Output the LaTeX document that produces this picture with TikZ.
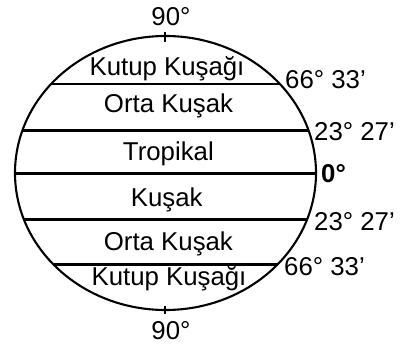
\documentclass[tikz,border=0pt]{standalone}
\usepackage{fontspec}
\setmainfont{Liberation Sans}
\usetikzlibrary{calc}
\begin{document}
\begin{tikzpicture}[x=1bp,y=1bp,
  outline/.style={line width=2.1bp,black},
  zone/.style={inner sep=0pt,anchor=base,font=\fontsize{25.8bp}{30bp}\selectfont},
  lat/.style={inner sep=0pt,anchor=base west,font=\fontsize{25.8bp}{30bp}\selectfont}]
\useasboundingbox (0,0) rectangle (403,347);
\coordinate (c) at (165.5,174);
% ellipse (globe)
\draw[outline] (c) ellipse [x radius=150.5, y radius=137];
% latitude lines
\coordinate (a1) at ($(c)+(-114.4,89)$);  \coordinate (b1) at ($(c)+(114.4,89)$);
\coordinate (a2) at ($(c)+(-143.1,42.5)$); \coordinate (b2) at ($(c)+(143.1,42.5)$);
\coordinate (a3) at ($(c)+(-150.5,-0.5)$); \coordinate (b3) at ($(c)+(150.5,-0.5)$);
\coordinate (a4) at ($(c)+(-141.6,-46.5)$); \coordinate (b4) at ($(c)+(141.6,-46.5)$);
\coordinate (a5) at ($(c)+(-112,-91.5)$); \coordinate (b5) at ($(c)+(112,-91.5)$);
\foreach \i in {1,...,5} {\draw[outline] (a\i) -- (b\i);}
% pole ticks
\coordinate (t1) at (165.3,315); \coordinate (t2) at (165.3,305);
\coordinate (u1) at (165.3,41); \coordinate (u2) at (165.3,33);
\draw[outline] (t1) -- (t2);
\draw[outline] (u1) -- (u2);
% zone names
\node[zone] (np) at (171,322) {90°};
\node[zone] (z1) at (167,272) {Kutup Kuşağı};
\node[zone] (z2) at (168.5,235) {Orta Kuşak};
\node[zone] (z3) at (168.4,187) {Tropikal};
\node[zone] (z4) at (166.7,140.5) {Kuşak};
\node[zone] (z5) at (168.4,97) {Orta Kuşak};
\node[zone] (z6) at (169,62) {Kutup Kuşağı};
\node[zone] (sp) at (171,8) {90°};
% latitude labels
\node[lat] (l1) at (285,259) {66° 33’};
\node[lat] (l2) at (314,207) {23° 27’};
\node[lat,font=\fontsize{25.8bp}{30bp}\selectfont\bfseries] (l3) at (321,165) {0°};
\node[lat] (l4) at (314,117) {23° 27’};
\node[lat] (l5) at (284,72) {66° 33’};
\end{tikzpicture}
\end{document}
